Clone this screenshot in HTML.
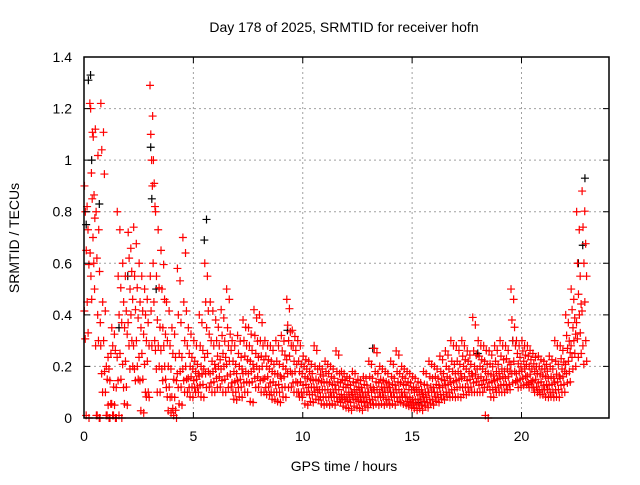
<!DOCTYPE html>
<html><head><meta charset="utf-8"><style>
body{margin:0;background:#fff}
svg text{font-family:"Liberation Sans",sans-serif;fill:#000}
</style></head><body>
<svg id="chart" width="640" height="480" xmlns="http://www.w3.org/2000/svg">
<text x="344" y="32" font-size="14" text-anchor="middle">Day 178 of 2025, SRMTID for receiver hofn</text>
<text x="344" y="471" font-size="14" text-anchor="middle">GPS time / hours</text>
<text x="0" y="0" font-size="14" text-anchor="middle" transform="translate(19,238) rotate(-90)">SRMTID / TECUs</text>
<g id="grid"></g>
<g id="marks"></g>
<g id="axes"></g>
</svg>
<script>
const xTicks=[0,5,10,15,20];
const yTicks=[0,0.2,0.4,0.6,0.8,1,1.2,1.4];
const yTickLabels=["0","0.2","0.4","0.6","0.8","1","1.2","1.4"];
const hours=[0,0.25,0.5,0.75,1,1.25,1.5,1.75,2,2.25,2.5,2.75,3,3.25,3.5,3.75,4,4.25,4.5,4.75,5,5.25,5.5,5.75,6,6.25,6.5,6.75,7,7.25,7.5,7.75,8,8.25,8.5,8.75,9,9.25,9.5,9.75,10,10.25,10.5,10.75,11,11.25,11.5,11.75,12,12.25,12.5,12.75,13,13.25,13.5,13.75,14,14.25,14.5,14.75,15,15.25,15.5,15.75,16,16.25,16.5,16.75,17,17.25,17.5,17.75,18,18.25,18.5,18.75,19,19.25,19.5,19.75,20,20.25,20.5,20.75,21,21.25,21.5,21.75,22,22.25,22.5,22.75];
const redValues=[
[0.9,0.8,0.65,0.45,0.33,0],[1.22,1.2,0.95,0.85,0.7,0.6,0.5],[1.12,0.8,0.62,0.4,0.3,0,0],[1.22,1.04,0.45,0.3,0.18,0.1],
[0.2,0.15,0.05,0,0,0.25],[0.35,0.28,0.12,0.05,0,0],[0.8,0.55,0.4,0.25,0.15,0],[0.6,0.45,0.35,0.22,0.12,0.05],
[0.72,0.62,0.5,0.4,0.3,0.2],[0.74,0.55,0.42,0.3,0.2,0.15],[0.6,0.45,0.35,0.25,0.15,0.02],[0.5,0.4,0.3,0.22,0.1,0.08],
[1.29,1.1,1.0,0.9,0.6,0.45,0.3],[0.8,0.55,0.38,0.28,0.2,0.1],[0.65,0.5,0.35,0.28,0.2,0.15],[0.45,0.3,0.2,0.12,0.08,0.02],
[0.35,0.25,0.15,0.08,0.03,0.0],[0.58,0.4,0.25,0.18,0.12,0.05],[0.7,0.45,0.3,0.2,0.15,0.1],[0.35,0.25,0.2,0.16,0.12,0.08],
[0.3,0.22,0.18,0.15,0.12,0.1],[0.4,0.28,0.2,0.17,0.13,0.08],[0.6,0.45,0.35,0.25,0.18,0.12],[0.45,0.3,0.22,0.18,0.14,0.1],
[0.38,0.3,0.24,0.2,0.16,0.12],[0.42,0.32,0.25,0.2,0.15,0.1],[0.5,0.35,0.28,0.22,0.17,0.12],[0.3,0.22,0.18,0.14,0.1,0.07],
[0.32,0.25,0.2,0.15,0.12,0.08],[0.38,0.3,0.24,0.18,0.14,0.1],[0.35,0.28,0.22,0.18,0.14,0.06],[0.42,0.32,0.25,0.2,0.16,0.12],
[0.4,0.3,0.24,0.2,0.15,0.1],[0.3,0.24,0.2,0.16,0.12,0.09],[0.28,0.22,0.18,0.14,0.1,0.07],[0.3,0.22,0.17,0.13,0.1,0.06],
[0.32,0.26,0.2,0.16,0.12,0.08],[0.46,0.36,0.3,0.24,0.18,0.12],[0.34,0.28,0.22,0.18,0.14,0.1],[0.3,0.22,0.18,0.14,0.1,0.08],
[0.24,0.2,0.16,0.13,0.1,0.05],[0.22,0.18,0.15,0.12,0.09,0.06],[0.28,0.2,0.15,0.12,0.1,0.07],[0.2,0.17,0.14,0.11,0.08,0.05],
[0.22,0.18,0.14,0.11,0.08,0.05],[0.2,0.16,0.13,0.1,0.08,0.05],[0.26,0.18,0.14,0.11,0.08,0.06],[0.18,0.15,0.12,0.09,0.07,0.04],
[0.16,0.13,0.1,0.08,0.06,0.03],[0.18,0.14,0.11,0.09,0.07,0.04],[0.15,0.12,0.1,0.08,0.06,0.03],[0.16,0.13,0.1,0.08,0.06,0.04],
[0.22,0.16,0.12,0.1,0.07,0.05],[0.27,0.18,0.14,0.11,0.08,0.05],[0.2,0.15,0.12,0.1,0.08,0.05],[0.18,0.14,0.12,0.1,0.07,0.05],
[0.22,0.16,0.13,0.1,0.08,0.05],[0.26,0.18,0.14,0.11,0.08,0.06],[0.2,0.16,0.13,0.1,0.08,0.05],[0.18,0.14,0.11,0.08,0.06,0.04],
[0.16,0.12,0.1,0.07,0.05,0.03],[0.14,0.11,0.09,0.07,0.05,0.03],[0.18,0.13,0.1,0.08,0.06,0.04],[0.22,0.16,0.12,0.1,0.07,0.05],
[0.2,0.16,0.13,0.1,0.08,0.06],[0.24,0.18,0.15,0.12,0.09,0.07],[0.26,0.2,0.16,0.13,0.1,0.08],[0.3,0.22,0.18,0.14,0.11,0.08],
[0.28,0.22,0.18,0.15,0.12,0.08],[0.3,0.24,0.2,0.16,0.12,0.09],[0.26,0.22,0.18,0.15,0.12,0.1],[0.39,0.26,0.2,0.17,0.14,0.1],
[0.3,0.24,0.2,0.16,0.13,0.1],[0.28,0.22,0.18,0.15,0.12,0],[0.26,0.21,0.17,0.14,0.11,0.08],[0.28,0.22,0.18,0.15,0.12,0.1],
[0.3,0.24,0.19,0.16,0.13,0.1],[0.28,0.23,0.19,0.16,0.13,0.11],[0.5,0.38,0.3,0.22,0.18,0.14],[0.3,0.25,0.21,0.18,0.15,0.12],
[0.3,0.26,0.22,0.19,0.16,0.13],[0.28,0.24,0.2,0.17,0.14,0.12],[0.25,0.21,0.18,0.15,0.12,0.1],[0.24,0.2,0.17,0.14,0.11,0.09],
[0.22,0.19,0.16,0.13,0.11,0.08],[0.24,0.2,0.16,0.13,0.1,0.08],[0.3,0.22,0.17,0.14,0.11,0.08],[0.28,0.23,0.19,0.16,0.13,0.1],
[0.4,0.32,0.27,0.22,0.18,0.14],[0.5,0.42,0.35,0.3,0.25,0.2],[0.8,0.6,0.48,0.4,0.33,0.25],[0.88,0.74,0.6,0.45,0.3,0.22]];
const blackTimes=[0.1,0.2,0.3,0.35,0.7,1.6,2.0,3.05,3.1,3.3,5.5,5.6,9.3,13.2,15.3,18.0,19.6,22.6,22.8,22.9];
const blackValues=[0.75,1.31,1.33,1.0,0.83,0.35,0.55,1.05,0.85,0.5,0.69,0.77,0.34,0.27,0.06,0.25,0.3,0.6,0.67,0.93];

const L=84,R=609,T=57,B=418;
const xs=h=>L+(h/24)*(R-L);
const ys=v=>B-(v/1.4)*(B-T);
const NS="http://www.w3.org/2000/svg";
function mk(tag,attrs,parent){const e=document.createElementNS(NS,tag);for(const k in attrs)e.setAttribute(k,attrs[k]);parent.appendChild(e);return e;}
const grid=document.getElementById('grid'),marks=document.getElementById('marks'),axes=document.getElementById('axes');
xTicks.forEach(t=>{
  if(t>0){const g=mk('line',{x1:xs(t),x2:xs(t),y1:T,y2:B,stroke:'#a0a0a0','stroke-dasharray':'2,3'},grid);
  
  }
  const tk=mk('path',{d:`M${xs(t)},${B}v-6M${xs(t)},${T}v6`,stroke:'#000'},axes);
  
  
  const tx=mk('text',{x:xs(t),y:B+23,'font-size':14,'text-anchor':'middle'},axes);tx.textContent=String(t);
  
  
});
yTicks.forEach((t,i)=>{
  if(t>0&&t<1.4){const g=mk('line',{x1:L,x2:R,y1:ys(t),y2:ys(t),stroke:'#a0a0a0','stroke-dasharray':'2,3'},grid);
  
  }
  const tk=mk('path',{d:`M${L},${ys(t)}h6M${R},${ys(t)}h-6`,stroke:'#000'},axes);
  
  
  const tx=mk('text',{x:72,y:ys(t)+5,'font-size':14,'text-anchor':'end'},axes);tx.textContent=yTickLabels[i];
  
  
});
const box=mk('rect',{x:L,y:T,width:R-L,height:B-T,fill:'none',stroke:'#000','stroke-width':1.5},axes);


function plus(x,y,color){
  const p=mk('path',{d:`M${x-4},${y}h8M${x},${y-4}v8`,stroke:color,'stroke-width':1.2},marks);
  
  
}
blackTimes.forEach((t,i)=>plus(xs(t),ys(blackValues[i]),'#000'));
hours.forEach((h,i)=>{const vals=redValues[i];const n=vals.length;
  vals.forEach((v,j)=>{
    plus(xs(h+(j+0.5)*0.25/n),ys(v),'#f00');
    plus(xs(h+((j+0.5)*0.25/n+0.12)%0.25),ys(v*0.9+0.01),'#f00');
  });
});
</script>
</body></html>
